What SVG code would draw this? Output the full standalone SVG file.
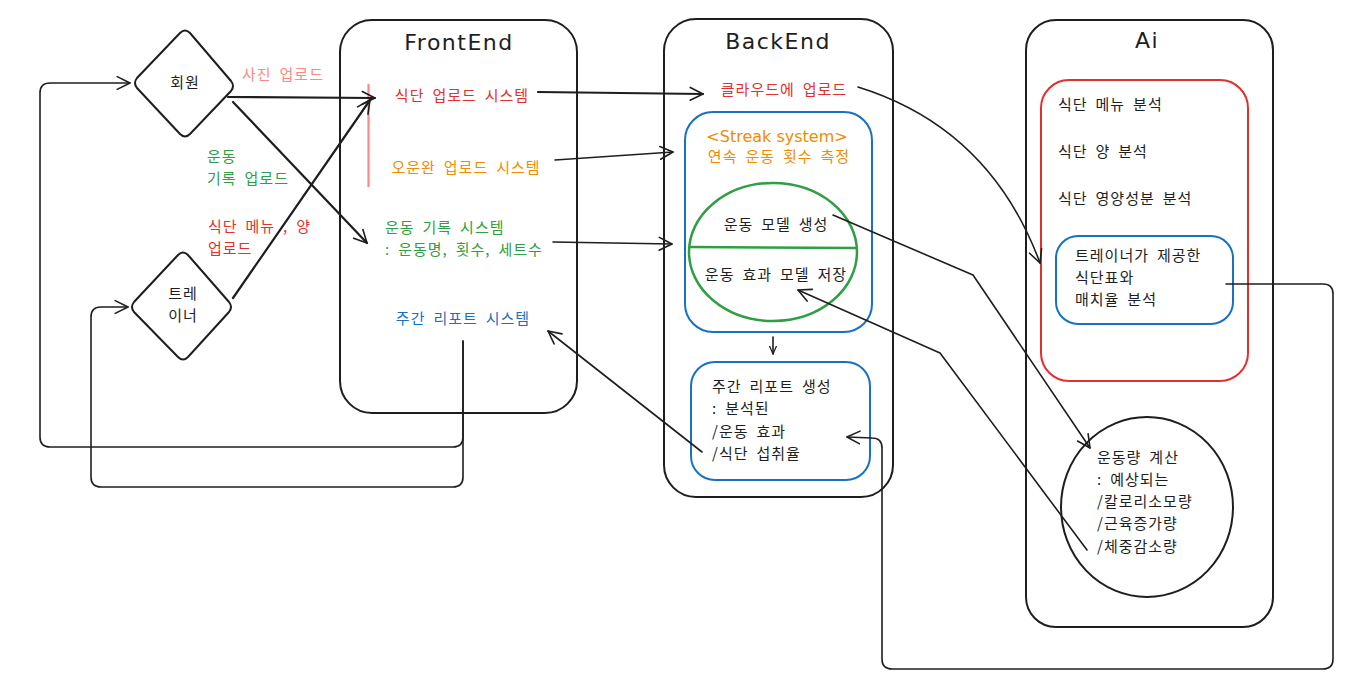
<svg xmlns="http://www.w3.org/2000/svg" width="1371" height="681" viewBox="0 0 1371 681">
<style>
  .box { fill: none; stroke: #1e1e1e; stroke-width: 2; }
  .blue { fill: none; stroke: #1971c2; stroke-width: 2; }
  .redb { fill: none; stroke: #e03131; stroke-width: 2; }
  .greenb { fill: none; stroke: #2f9e44; stroke-width: 2.5; }
  .conn { fill: none; stroke: #1e1e1e; stroke-width: 1.6; stroke-linecap: round; stroke-linejoin: round; }
  .thick { stroke-width: 2.2; }
  text { font-family: "Noto Sans CJK KR", "Noto Sans", sans-serif; font-size: 15px; fill: #1e1e1e; letter-spacing: 1px; word-spacing: 3.6px; }
  .title { font-family: "DejaVu Sans", sans-serif; font-size: 22px; letter-spacing: 1.5px; }
  .latin { font-family: "DejaVu Sans", sans-serif; font-size: 16px; letter-spacing: 0; word-spacing: 0; }
  .c { text-anchor: middle; }
  .red { fill: #e03131; }
  .pink { fill: #ff8787; }
  .orange { fill: #f08c00; }
  .green { fill: #2f9e44; }
  .bluet { fill: #1971c2; }
</style>
<defs>
  <marker id="ah" viewBox="0 0 20 20" refX="17" refY="10" markerWidth="16" markerHeight="16" markerUnits="userSpaceOnUse" orient="auto">
    <path d="M1,2 L17,10 L1,18" fill="none" stroke="#1e1e1e" stroke-width="2" stroke-linecap="round" stroke-linejoin="round"/>
  </marker>
  <marker id="ahs" viewBox="0 0 20 20" refX="17" refY="10" markerWidth="10" markerHeight="10" markerUnits="userSpaceOnUse" orient="auto">
    <path d="M1,3 L17,10 L1,17" fill="none" stroke="#1e1e1e" stroke-width="2.5" stroke-linecap="round" stroke-linejoin="round"/>
  </marker>
</defs>

<g id="member">
  <path class="box" d="M180,33 Q185,28 190,33 L231,81 Q235,86 231,91 L190,134 Q185,139 180,134 L137,88 Q133,83 137,78 Z"/>
  <text class="c" x="185" y="88">회원</text>
</g>

<g id="trainer">
  <path class="box" d="M178,255 Q183,250 188,255 L229,302 Q233,307 229,312 L188,357 Q183,362 178,357 L134,312 Q130,307 134,302 Z"/>
  <text class="c" x="183" y="299">트레</text>
  <text class="c" x="183" y="321">이너</text>
</g>

<g id="edge-labels">
  <text class="pink" x="242" y="80">사진 업로드</text>
  <text class="green" x="207" y="162">운동</text>
  <text class="green" x="207" y="184">기록 업로드</text>
  <text class="red" x="208" y="232">식단 메뉴 , 양</text>
  <text class="red" x="208" y="254">업로드</text>
</g>

<g id="frontend">
  <rect class="box" x="340" y="20" width="237" height="393" rx="32"/>
  <text class="title c" x="459" y="50">FrontEnd</text>
  <line x1="368.5" y1="84" x2="368.5" y2="187" stroke="#ff8787" stroke-width="2.2"/>
  <text class="red c" x="462" y="101">식단 업로드 시스템</text>
  <text class="orange c" x="466" y="173">오운완 업로드 시스템</text>
  <text class="green" x="385" y="233">운동 기록 시스템</text>
  <text class="green" x="385" y="255">: 운동명, 횟수, 세트수</text>
  <text class="bluet c" x="463" y="324">주간 리포트 시스템</text>
</g>

<g id="backend">
  <rect class="box" x="664" y="19" width="229" height="478" rx="32"/>
  <text class="title c" x="778" y="49">BackEnd</text>
  <text class="red c" x="784" y="95">클라우드에 업로드</text>
</g>

<g id="streak">
  <rect class="blue" x="685" y="112" width="187" height="220" rx="28"/>
  <text class="orange c latin" x="777" y="142">&lt;Streak system&gt;</text>
  <text class="orange c" x="779" y="162">연속 운동 횟수 측정</text>
</g>

<g id="exercise-model">
  <ellipse class="greenb" cx="773" cy="252" rx="84" ry="69"/>
  <line x1="690" y1="247" x2="857" y2="248" stroke="#2f9e44" stroke-width="2.5"/>
  <text class="c" x="776" y="230">운동 모델 생성</text>
  <text class="c" x="776" y="280">운동 효과 모델 저장</text>
</g>

<g id="weekly-report">
  <rect class="blue" x="691" y="362" width="179" height="118" rx="24"/>
  <text x="712" y="392">주간 리포트 생성</text>
  <text x="712" y="414">: 분석된</text>
  <text x="712" y="437">/운동 효과</text>
  <text x="712" y="459">/식단 섭취율</text>
</g>

<g id="ai">
  <rect class="box" x="1026" y="20" width="247" height="607" rx="30"/>
  <text class="title c" x="1147" y="48">Ai</text>
</g>

<g id="diet-analysis">
  <rect class="redb" x="1041" y="80" width="207" height="301" rx="28"/>
  <text x="1058" y="110">식단 메뉴 분석</text>
  <text x="1058" y="157">식단 양 분석</text>
  <text x="1058" y="204">식단 영양성분 분석</text>
</g>

<g id="match-analysis">
  <rect class="blue" x="1056" y="236" width="177" height="88" rx="22"/>
  <text x="1075" y="261">트레이너가 제공한</text>
  <text x="1075" y="283">식단표와</text>
  <text x="1075" y="305">매치율 분석</text>
</g>

<g id="exercise-calc">
  <ellipse class="box" cx="1147" cy="507" rx="86" ry="90"/>
  <text x="1097" y="463">운동량 계산</text>
  <text x="1097" y="485">: 예상되는</text>
  <text x="1097" y="507">/칼로리소모량</text>
  <text x="1097" y="529">/근육증가량</text>
  <text x="1097" y="552">/체중감소량</text>
</g>

<g id="connectors">
  <line class="conn thick" x1="228" y1="97" x2="375" y2="98" marker-end="url(#ah)"/>
  <line class="conn thick" x1="233" y1="102" x2="367" y2="243" marker-end="url(#ah)"/>
  <line class="conn thick" x1="233" y1="298" x2="370" y2="100" marker-end="url(#ah)"/>
  <line class="conn thick" x1="538" y1="92" x2="703" y2="94" marker-end="url(#ah)"/>
  <line class="conn" x1="555" y1="160" x2="673" y2="152" marker-end="url(#ah)"/>
  <line class="conn" x1="553" y1="242" x2="672" y2="244" marker-end="url(#ah)"/>
  <path class="conn" d="M858,87 Q990,128 1040,263" marker-end="url(#ah)"/>
  <path class="conn" d="M833,215 L973,275 L1090,448" marker-end="url(#ah)"/>
  <path class="conn" d="M1087,550 L940,353 L798,290" marker-end="url(#ah)"/>
  <line class="conn" x1="773" y1="337" x2="773" y2="354" marker-end="url(#ahs)"/>
  <line class="conn" x1="702" y1="452" x2="548" y2="331" marker-end="url(#ah)"/>
  <path class="conn" d="M463,341 L463,437 Q463,447 453,447 L50,447 Q40,447 40,437 L40,93 Q40,83 50,83 L130,83" marker-end="url(#ah)"/>
  <path class="conn" d="M463,341 L463,477 Q463,487 453,487 L101,487 Q91,487 91,477 L91,317 Q91,307 101,307 L128,307" marker-end="url(#ah)"/>
  <path class="conn" d="M1226,284 L1323,284 Q1333,284 1333,294 L1333,659 Q1333,669 1323,669 L892,669 Q882,669 882,659 L882,448 Q882,438 872,438 L847,437" marker-end="url(#ah)"/>
</g>
</svg>
